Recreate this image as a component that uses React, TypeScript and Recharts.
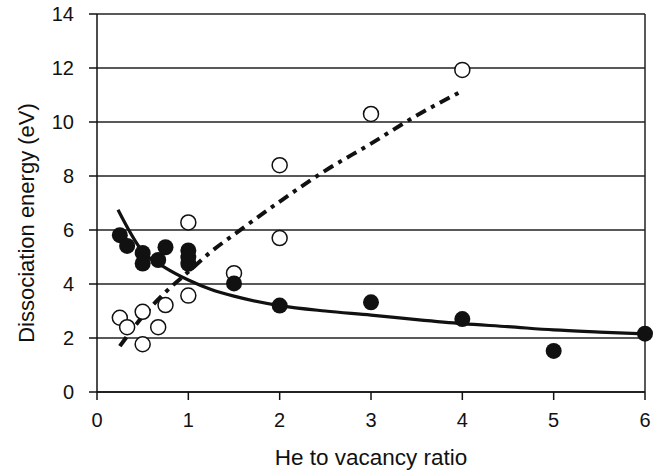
import React from "react";
import {
  ComposedChart,
  Scatter,
  Line,
  XAxis,
  YAxis,
  CartesianGrid,
  ReferenceLine,
  Label,
} from "recharts";

// ── Data ─────────────────────────────────────────────────────────────────────

const filledX = [0.25, 0.33, 0.5, 0.5, 0.67, 0.75, 1, 1, 1, 1.5, 2, 3, 4, 5, 6];
const filledY = [5.81, 5.41, 5.15, 4.76, 4.89, 5.36, 5.24, 5.0, 4.75, 4.02, 3.2, 3.32, 2.7, 1.52, 2.16];

const openX = [0.25, 0.33, 0.5, 0.5, 0.67, 0.75, 1, 1, 1.5, 2, 2, 3, 4];
const openY = [2.75, 2.4, 2.97, 1.77, 2.4, 3.22, 3.57, 6.28, 4.4, 5.7, 8.4, 10.3, 11.93];

// solid fit (decaying) and dash-dot fit (rising)
const solidX = [0.23, 0.5, 0.75, 1, 1.25, 1.5, 2, 2.5, 3, 3.5, 4, 4.5, 5, 5.5, 6];
const solidY = [6.75, 5.2, 4.6, 4.15, 3.8, 3.55, 3.2, 3.0, 2.85, 2.68, 2.53, 2.42, 2.3, 2.22, 2.15];

const dashX = [0.25, 0.5, 0.75, 1, 1.25, 1.5, 2, 2.5, 3, 3.5, 4];
const dashY = [1.7, 2.8, 3.7, 4.45, 5.2, 5.83, 7.05, 8.2, 9.2, 10.24, 11.15];

const xTicks = [0, 1, 2, 3, 4, 5, 6];
const yTicks = [0, 2, 4, 6, 8, 10, 12, 14];

const zip = (xs: number[], ys: number[]) => xs.map((x, i) => ({ x, y: ys[i] }));

const filled = zip(filledX, filledY);
const open = zip(openX, openY);
const solid = zip(solidX, solidY);
const dashed = zip(dashX, dashY);

const FONT = "'Liberation Sans', Arial, Helvetica, sans-serif";
const INK = "#111";

// ── Chart ────────────────────────────────────────────────────────────────────

export default function App() {
  return (
    <div style={{ position: "absolute", left: 0, top: 0, width: 659, height: 473, background: "#fff" }}>
      <ComposedChart
        width={659}
        height={473}
        margin={{ top: 14, right: 14, bottom: 0, left: 0 }}
        style={{ fontFamily: FONT }}
      >
        <CartesianGrid vertical={false} stroke="#222" strokeWidth={1.3} />
        <XAxis
          type="number"
          dataKey="x"
          domain={[0, 6]}
          ticks={xTicks}
          height={81}
          tickSize={8}
          tickMargin={13}
          stroke={INK}
          strokeWidth={1.5}
          tick={{ fill: INK, fontSize: 20, fontFamily: FONT }}
        >
          <Label
            content={() => (
              <text x={371} y={465} textAnchor="middle" fill={INK} fontSize={22.5} fontFamily={FONT}>
                He to vacancy ratio
              </text>
            )}
          />
        </XAxis>
        <YAxis
          type="number"
          dataKey="y"
          domain={[0, 14]}
          ticks={yTicks}
          width={97}
          tickSize={8}
          tickMargin={15}
          stroke={INK}
          strokeWidth={1.5}
          tick={{ fill: INK, fontSize: 20, fontFamily: FONT }}
        >
          <Label
            content={() => (
              <text
                x={34}
                y={223}
                transform="rotate(-90 34 223)"
                textAnchor="middle"
                fill={INK}
                fontSize={22}
                fontFamily={FONT}
              >
                Dissociation energy (eV)
              </text>
            )}
          />
        </YAxis>
        <ReferenceLine x={6} stroke="#222" strokeWidth={1.5} />

        <Scatter
          data={open}
          isAnimationActive={false}
          shape={(p: any) => (
            <circle cx={p.cx} cy={p.cy} r={7.5} fill="#fff" stroke={INK} strokeWidth={1.5} />
          )}
        />
        <Scatter
          data={filled}
          isAnimationActive={false}
          shape={(p: any) => <circle cx={p.cx} cy={p.cy} r={8} fill={INK} />}
        />
        <Line
          data={solid}
          dataKey="y"
          type="monotone"
          stroke={INK}
          strokeWidth={3.2}
          dot={false}
          activeDot={false}
          isAnimationActive={false}
        />
        <Line
          data={dashed}
          dataKey="y"
          type="monotone"
          stroke={INK}
          strokeWidth={4}
          strokeDasharray="11 6 4 6"
          dot={false}
          activeDot={false}
          isAnimationActive={false}
        />
      </ComposedChart>
    </div>
  );
}
